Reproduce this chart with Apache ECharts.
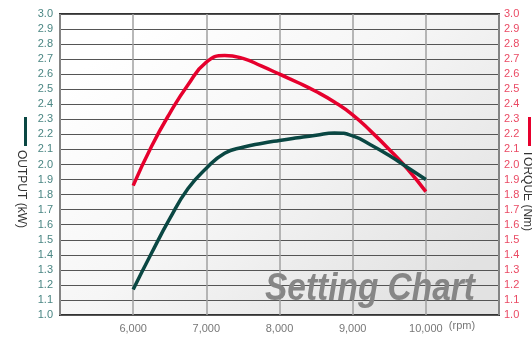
<!DOCTYPE html>
<html>
<head>
<meta charset="utf-8">
<script src="https://cdn.jsdelivr.net/npm/echarts@6/dist/echarts.min.js"></script>
<style>
  html, body { margin: 0; padding: 0; background: #fff; }
  #chart-container { width: 532px; height: 338px; }
</style>
</head>
<body>
<div id="chart-container"></div>
<script>
// valores (cada 250 rpm)
const rpm = [6000, 6250, 6500, 6750, 7000, 7250, 7500, 7750, 8000, 8250, 8500, 8750, 9000, 9250, 9500, 9750, 10000];
const torque = [1.86, 2.12, 2.34, 2.53, 2.68, 2.725, 2.705, 2.655, 2.60, 2.545, 2.485, 2.415, 2.33, 2.22, 2.10, 1.97, 1.82];
const output = [1.17, 1.41, 1.64, 1.84, 1.975, 2.075, 2.115, 2.14, 2.16, 2.178, 2.195, 2.21, 2.19, 2.13, 2.06, 1.98, 1.90];
const rpmTicks = [6000, 7000, 8000, 9000, 10000];

const fuente = "'Liberation Sans', Arial, sans-serif";

let myChart = echarts.init(document.getElementById('chart-container'), null, {
  renderer: 'canvas'
});

function pares(xs, ys) {
  return xs.map((x, i) => [x, ys[i]]);
}

const opciones = {
  backgroundColor: '#ffffff',
  animation: false,
  grid: {
    left: 60, right: 33, top: 14, bottom: 23,
    show: true,
    borderColor: '#333',
    borderWidth: 2,
    backgroundColor: new echarts.graphic.LinearGradient(0.2, 0, 0.8, 1, [
      { offset: 0, color: '#ffffff' },
      { offset: 0.45, color: '#f6f6f6' },
      { offset: 1, color: '#e2e2e2' }
    ])
  },
  xAxis: {
    type: 'value',
    min: 5000, max: 11000, interval: 1000,
    axisLine: { show: false },
    axisTick: { show: false },
    axisLabel: {
      color: '#777', fontSize: 11, fontFamily: fuente, margin: 8,
      formatter: v => rpmTicks.includes(v) ? v.toLocaleString('en-US') : ''
    },
    splitLine: { show: true, lineStyle: { color: '#a0a0a0', width: 1.5 } }
  },
  yAxis: [{
    type: 'value',
    position: 'left',
    min: 1, max: 3, interval: 0.1,
    axisLine: { show: false },
    axisTick: { show: false },
    axisLabel: {
      color: '#4a8683', fontSize: 11, fontFamily: fuente, margin: 7,
      formatter: v => v.toFixed(1)
    },
    splitLine: { show: true, lineStyle: { color: '#555', width: 1 } }
  }, {
    type: 'value',
    position: 'right',
    min: 1, max: 3, interval: 0.1,
    axisLine: { show: false },
    axisTick: { show: false },
    axisLabel: {
      color: '#ea4a64', fontSize: 11, fontFamily: fuente, margin: 5,
      formatter: v => v.toFixed(1)
    },
    splitLine: { show: false }
  }],
  series: [{
    name: 'TORQUE (Nm)',
    type: 'line',
    yAxisIndex: 1,
    data: pares(rpm, torque),
    smooth: 0.5,
    showSymbol: false,
    lineStyle: { color: '#e6002d', width: 3.5 },
    z: 3
  }, {
    name: 'OUTPUT (kW)',
    type: 'line',
    yAxisIndex: 0,
    data: pares(rpm, output),
    smooth: 0.5,
    showSymbol: false,
    lineStyle: { color: '#0a4743', width: 3.5 },
    z: 3
  }],
  graphic: [
    { type: 'rect', left: 24, top: 117, shape: { width: 3, height: 29 }, style: { fill: '#0a4743' } },
    { type: 'text', x: 21, y: 150, rotation: -Math.PI / 2,
      style: { text: 'OUTPUT (kW)', fill: '#333', font: '12px ' + fuente, textAlign: 'left', textVerticalAlign: 'middle' } },
    { type: 'rect', left: 528, top: 117, shape: { width: 3, height: 29 }, style: { fill: '#e6002d' } },
    { type: 'text', x: 527, y: 150, rotation: -Math.PI / 2,
      style: { text: 'TORQUE (Nm)', fill: '#333', font: '12px ' + fuente, textAlign: 'left', textVerticalAlign: 'middle' } },
    { type: 'text', x: 462, y: 326,
      style: { text: '(rpm)', fill: '#777', font: '11px ' + fuente, textAlign: 'center', textVerticalAlign: 'middle' } },
    { type: 'text', x: 265, y: 309, z: 10, scaleX: 0.88,
      style: { text: 'Setting Chart', fill: '#868686', font: 'italic bold 38px ' + fuente,
        textAlign: 'left', textVerticalAlign: 'bottom',
        shadowColor: 'rgba(0,0,0,0.25)', shadowBlur: 2, shadowOffsetX: 1, shadowOffsetY: 1 } }
  ]
};

myChart.setOption(opciones, true);
window.addEventListener('resize', myChart.resize);
</script>
</body>
</html>
